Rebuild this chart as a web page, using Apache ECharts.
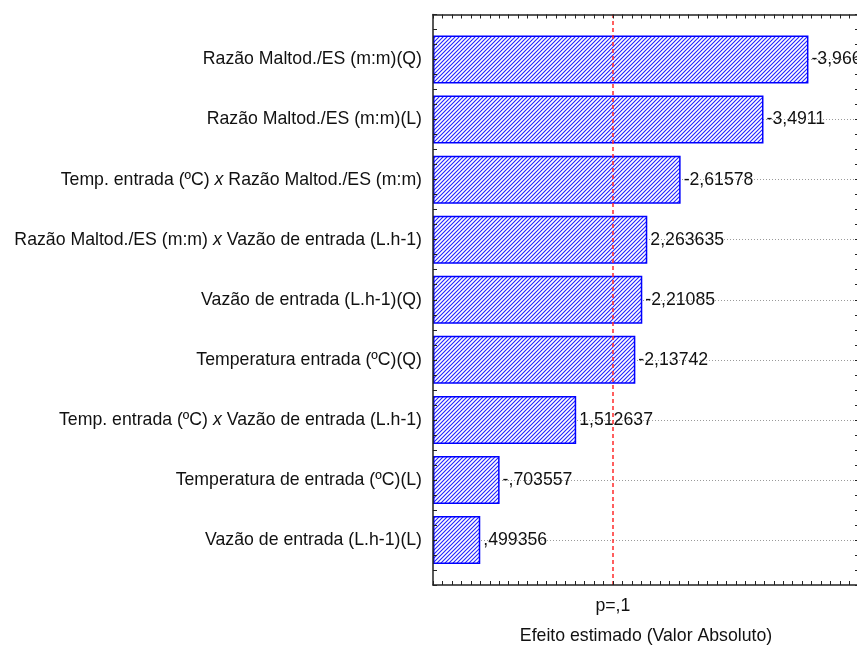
<!DOCTYPE html>
<html>
<head>
<meta charset="utf-8">
<title>Efeito estimado (Valor Absoluto)</title>
<script src="https://cdn.jsdelivr.net/npm/echarts@6/dist/echarts.min.js"></script>
<style>
  html, body { margin: 0; padding: 0; background: #ffffff; }
  #chart { width: 857px; height: 645px; }
</style>
</head>
<body>
<div id="chart"></div>
<script>
// Pareto chart of standardized effects
const factors = [
  'Razão Maltod./ES (m:m)(Q)',
  'Razão Maltod./ES (m:m)(L)',
  'Temp. entrada (ºC) x Razão Maltod./ES (m:m)',
  'Razão Maltod./ES (m:m) x Vazão de entrada (L.h-1)',
  'Vazão de entrada (L.h-1)(Q)',
  'Temperatura entrada (ºC)(Q)',
  'Temp. entrada (ºC) x Vazão de entrada (L.h-1)',
  'Temperatura de entrada (ºC)(L)',
  'Vazão de entrada (L.h-1)(L)'
];
const effects = [-3.966, -3.4911, -2.61578, 2.263635, -2.21085, -2.13742, 1.512637, -0.703557, 0.499356];
const pCritical = 1.895;          // t critical value for p = 0.1
const pLabel = 'p=,1';
const xTitle = 'Efeito estimado (Valor Absoluto)';

const FONT = '"Liberation Sans", Arial, sans-serif';
const FS = 17.7;
const AXIS_COLOR = '#222';

// decimal comma, no leading zero
function fmt(v) {
  return String(v).replace('.', ',').replace(/^(-?)0,/, '$1,');
}

// diagonal hatch used as bar fill
function hatch() {
  const p = 4;
  const c = document.createElement('canvas');
  c.width = p; c.height = p;
  const g = c.getContext('2d');
  g.fillStyle = '#ffffff';
  g.fillRect(0, 0, p, p);
  g.strokeStyle = '#2222ff';
  g.lineWidth = 1.1;
  g.beginPath();
  g.moveTo(-1, p + 1); g.lineTo(p + 1, -1);
  g.moveTo(-1, 1); g.lineTo(1, -1);
  g.moveTo(p - 1, p + 1); g.lineTo(p + 1, p - 1);
  g.stroke();
  return c;
}

const frameLine = { show: true, onZero: false, lineStyle: { color: AXIS_COLOR, width: 1.5 } };
const innerTick = { show: true, inside: true, length: 4, lineStyle: { color: AXIS_COLOR, width: 1 } };

const chart = echarts.init(document.getElementById('chart'), null, { renderer: 'canvas' });

chart.setOption({
  animation: false,
  backgroundColor: '#ffffff',
  textStyle: { fontFamily: FONT },
  grid: [
    { left: 433, right: -2, top: 14.5, bottom: 60, containLabel: false, outerBoundsMode: 'none' },
    { left: 433, right: -2, top: 59.5, bottom: 105, containLabel: false, outerBoundsMode: 'none' }
  ],
  xAxis: [
    {
      gridIndex: 0, type: 'value', position: 'bottom', min: 0, max: 4.5, interval: 0.1, z: 10,
      axisLine: frameLine, axisTick: innerTick, axisLabel: { show: false }, splitLine: { show: false },
      name: xTitle, nameLocation: 'middle', nameGap: 42,
      nameTextStyle: { color: '#111', fontSize: FS, fontFamily: FONT }
    },
    {
      gridIndex: 0, type: 'value', position: 'top', min: 0, max: 4.5, interval: 0.1, z: 10,
      axisLine: frameLine, axisTick: innerTick, axisLabel: { show: false }, splitLine: { show: false }
    },
    {
      gridIndex: 1, type: 'value', min: 0, max: 4.5, show: false
    }
  ],
  yAxis: [
    {
      gridIndex: 0, type: 'value', position: 'left', min: 0, max: 9.5, interval: 0.25, z: 10,
      axisLine: frameLine, axisTick: innerTick, axisLabel: { show: false }, splitLine: { show: false }
    },
    {
      gridIndex: 0, type: 'value', position: 'right', min: 0, max: 9.5, interval: 0.25, z: 10,
      axisLine: frameLine, axisTick: innerTick, axisLabel: { show: false }, splitLine: { show: false }
    },
    {
      gridIndex: 1, type: 'category', data: factors, inverse: true, boundaryGap: false,
      axisLine: { show: false }, axisTick: { show: false },
      splitLine: { show: true, lineStyle: { color: '#9a9a9a', type: [1, 2], width: 1 } },
      axisLabel: {
        margin: 11, color: '#111', fontSize: FS, fontFamily: FONT,
        formatter: v => v.split(' x ').join(' {ix|x} '),
        rich: { ix: { fontStyle: 'italic', fontSize: FS, fontFamily: FONT, color: '#111' } }
      }
    }
  ],
  series: [
    {
      type: 'bar',
      xAxisIndex: 2, yAxisIndex: 2,
      data: effects.map(Math.abs),
      barWidth: 48,
      clip: false,
      z: 3,
      itemStyle: {
        color: { image: hatch(), repeat: 'repeat' },
        borderColor: '#0000ff',
        borderWidth: 1.5
      },
      label: {
        show: true, position: 'right', distance: 3,
        color: '#111', fontSize: FS, fontFamily: FONT,
        formatter: p => fmt(effects[p.dataIndex])
      }
    },
    {
      // significance threshold
      type: 'line',
      xAxisIndex: 0, yAxisIndex: 0,
      data: [[pCritical, 0]],
      symbol: 'none',
      silent: true,
      z: 5,
      markLine: {
        silent: true,
        symbol: 'none',
        animation: false,
        lineStyle: { color: '#ff2a2a', type: [4, 3], width: 1.5 },
        label: {
          show: true, position: 'start', distance: 12,
          formatter: pLabel, color: '#111', fontSize: FS, fontFamily: FONT
        },
        emphasis: { disabled: true },
        data: [{ xAxis: pCritical }]
      }
    }
  ]
});
</script>
</body>
</html>
